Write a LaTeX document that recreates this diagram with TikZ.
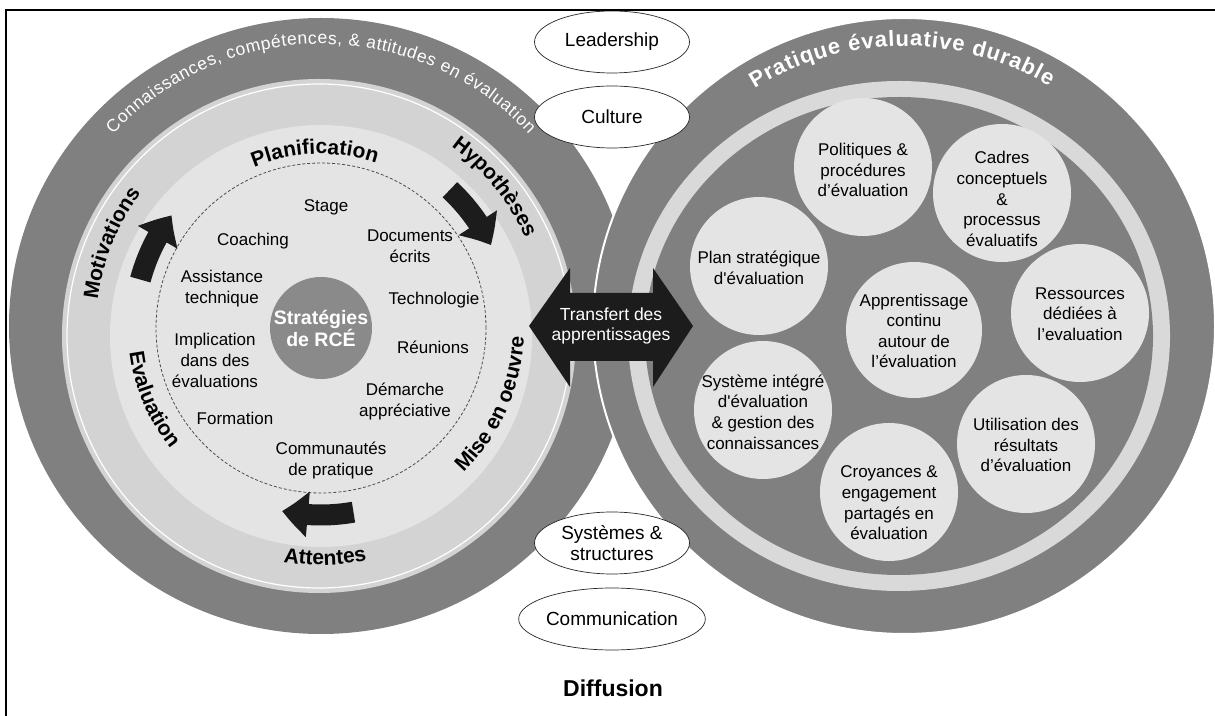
\documentclass[tikz,border=0pt]{standalone}
\usepackage{fontspec}
\setmainfont{Liberation Sans}
\usetikzlibrary{decorations.text,arrows.meta,bending,shapes.geometric}

\definecolor{ringdark}{HTML}{808080}
\definecolor{ringmid}{HTML}{D3D3D3}
\definecolor{disklight}{HTML}{E4E4E4}
\definecolor{bandlight}{HTML}{D9D9D9}
\definecolor{hubgray}{HTML}{8A8A8A}
\definecolor{inkblack}{HTML}{1C1C1C}

\newcommand{\ringfont}{\bfseries\fontsize{21}{25}\selectfont}
\newcommand{\titlefontL}{\fontsize{17.5}{21}\selectfont}
\newcommand{\titlefontR}{\bfseries\fontsize{22}{26}\selectfont}
% text set along a circular arc: centre, radius, start angle, end angle, decoration keys
\newcommand{\ringtext}[5]{%
  \path[decorate,decoration={text along path,#5}]
    ([shift={(#3:#2)}]#1) arc[start angle=#3,end angle=#4,radius=#2];}

\begin{document}
\begin{tikzpicture}[x=1pt,y=1pt,
  lbl/.style={align=center,font=\fontsize{17}{21}\selectfont},
  rlbl/.style={align=center,font=\fontsize{17}{20.6}\selectfont},
  pill/.style={ellipse,draw=black!85,line width=0.7pt,fill=white,
    minimum width=155pt,minimum height=62pt,inner sep=0pt,align=center,
    font=\fontsize{19}{21.5}\selectfont},
  cyc/.style={draw=inkblack,line width=21pt,-{Triangle[width=44pt,length=26pt,bend]}},
  bubble/.style={fill=disklight},
]
\useasboundingbox (0,0) rectangle (1215,715);
\clip (0,0) rectangle (1215,715);
\coordinate (O1) at (321,387);
\coordinate (O2) at (904,387);

% ---------- left disc: capacity building ----------
\fill[ringdark] (321,389) ellipse[x radius=312,y radius=308];
\fill[ringmid] (319,379) circle[radius=257];
\draw[white,line width=1.2pt] (319,379) circle[radius=252];
\fill[disklight] (321,379) circle[radius=211];
\draw[black!70,line width=0.8pt,dash pattern=on 3pt off 2pt] (O1) circle[radius=165];
\fill[hubgray] (O1) circle[radius=51];
\node[align=center,text=white,font=\bfseries\fontsize{19.5}{22}\selectfont] (hub) at (O1) {Stratégies\\de RCÉ};

\ringtext{O1}{284}{137}{43}{text align={fit to path},text color=white,text={|\titlefontL|Connaissances, compétences, {\&} attitudes en évaluation}}
\ringtext{O1}{174}{132}{52}{text align=center,text={|\ringfont|Planification}}
\ringtext{O1}{223}{79}{-1}{text align=center,text={|\ringfont|Hypothèses}}
\ringtext{O1}{225}{198}{118}{text align=center,text={|\ringfont|Motivations}}
\ringtext{O1}{193}{163}{243}{text align=center,text={|\ringfont|Evaluation}}
\ringtext{O1}{203}{-64}{16}{text align=center,text={|\ringfont|Mise en oeuvre}}
\ringtext{O1}{237}{231}{311}{text align=center,text={|\ringfont|Attentes}}

% cycle arrows
\draw[cyc] ([shift={(165:187)}]O1) arc[start angle=165,end angle=143,radius=187];
\draw[cyc] ([shift={(47:189)}]O1) arc[start angle=47,end angle=26,radius=189];
\draw[cyc] ([shift={(-80:187)}]O1) arc[start angle=-80,end angle=-102,radius=187];

% strategies
\node[lbl] (stage) at (326,508) {Stage};
\node[lbl] (coach) at (253,474) {Coaching};
\node[lbl] (docs) at (410,469) {Documents\\écrits};
\node[lbl] (assist) at (222,426) {Assistance\\technique};
\node[lbl] (techno) at (434,415) {Technologie};
\node[lbl] (impl) at (215,355) {Implication\\dans des\\évaluations};
\node[lbl] (reun) at (433,368) {Réunions};
\node[lbl] (demarche) at (405,313) {Démarche\\appréciative};
\node[lbl] (form) at (235,297) {Formation};
\node[lbl] (commu) at (331,254) {Communautés\\de pratique};

% ---------- right disc: sustainable practice ----------
\filldraw[fill=ringdark,draw=white,line width=2pt] (904,389) ellipse[x radius=311,y radius=308];
\fill[bandlight] (899,379) ellipse[x radius=271,y radius=255];
\fill[ringdark] (899,379) ellipse[x radius=254,y radius=239];
\ringtext{O2}{282}{122}{59}{text align={fit to path},text color=white,text={|\titlefontR|Pratique évaluative durable}}

\fill[bubble] (863,548) circle[radius=69];
\fill[bubble] (1002,522) circle[radius=69];
\fill[bubble] (759,449) circle[radius=69];
\fill[bubble] (914,385) circle[radius=68];
\fill[bubble] (1080,402) circle[radius=69];
\fill[bubble] (763,305) circle[radius=69];
\fill[bubble] (1026,271) circle[radius=69];
\fill[bubble] (889,223) circle[radius=69];

\node[rlbl] (polit) at (863,545) {Politiques \&\\procédures\\d’évaluation};
\node[rlbl] (cadres) at (1002,516) {Cadres\\conceptuels\\\&\\processus\\évaluatifs};
\node[rlbl] (plan) at (759,447) {Plan stratégique\\d\textquotesingle évaluation};
\node[rlbl] (appr) at (914,384) {Apprentissage\\continu\\autour de\\l’évaluation};
\node[rlbl] (ress) at (1080,401) {Ressources\\dédiées à\\l’evaluation};
\node[rlbl] (syst) at (763,303) {Système intégré\\d\textquotesingle évaluation\\\& gestion des\\connaissances};
\node[rlbl] (util) at (1026,270) {Utilisation des\\résultats\\d’évaluation};
\node[rlbl] (croy) at (889,212) {Croyances \&\\engagement\\partagés en\\évaluation};

% ---------- transfer arrow ----------
\fill[inkblack] (529,389) -- (570,447) -- (570,422) -- (653,422) -- (653,447) -- (693,389)
  -- (653,328) -- (653,354) -- (570,354) -- (570,328) -- cycle;
\node[text=white,align=center,font=\fontsize{17.5}{20}\selectfont] (transfer) at (611,389) {Transfert des\\apprentissages};

% ---------- diffusion ----------
\node[pill] (lead) at (612,673) {Leadership};
\node[pill] (cult) at (612,598) {Culture};
\node[pill] (sys) at (612,172) {Systèmes \&\\structures};
\node[pill] (comm) at (612,96) {Communication};
\node[font=\bfseries\fontsize{23}{26}\selectfont] (diff) at (613,27) {Diffusion};

% frame
\draw[line width=1.6pt] (6,-5) -- (6,705) -- (1225,705);
\end{tikzpicture}
\end{document}
